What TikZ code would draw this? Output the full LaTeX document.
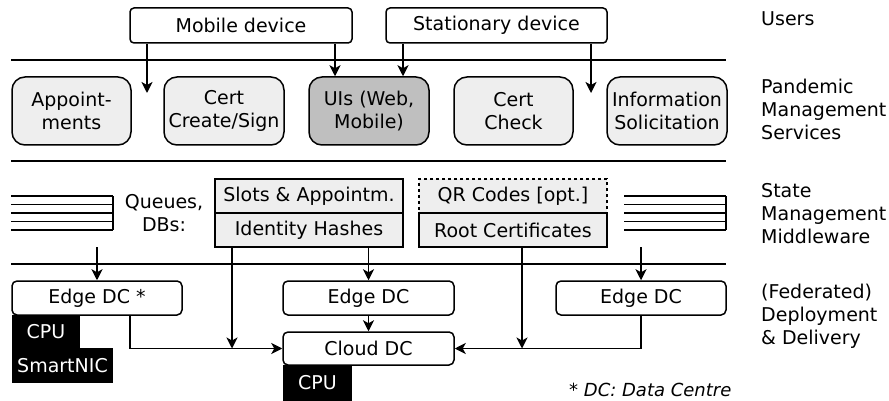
\documentclass[tikz,border=0pt]{standalone}
\usepackage{fontspec}
\setmainfont{DejaVu Sans}
\usetikzlibrary{arrows.meta}
\definecolor{lightfill}{RGB}{238,238,238}
\definecolor{darkfill}{RGB}{191,191,191}
\begin{document}
\begin{tikzpicture}[x=1pt,y=-1pt,
  every node/.style={font=\fontsize{19}{23}\selectfont, inner sep=0pt, align=center},
  lw/.style={line width=1.5pt},
  dev/.style={draw, lw, rounded corners=4pt, fill=white, minimum height=35pt},
  svc/.style={draw, lw, rounded corners=13pt, fill=lightfill, minimum height=68pt},
  store/.style={draw, lw, fill=lightfill, minimum width=188pt, minimum height=34pt},
  dc/.style={draw, lw, rounded corners=5pt, fill=white, minimum height=34pt},
  hw/.style={fill=black, text=white},
  layer/.style={anchor=west, align=left},
  rule/.style={lw},
  arr/.style={lw, -{Stealth[length=11pt,width=11pt,inset=3pt]}}
]
\useasboundingbox (0,0) rectangle (889,401);

% rules
\draw[rule] (11,60) -- (726,60);
\draw[rule] (11,161) -- (726,161);
\draw[rule] (11,264) -- (726,264);

% users
\node[dev, minimum width=222pt] (mob) at (241,25.5) {Mobile device};
\node[dev, minimum width=221pt] (sta) at (496.5,25.5) {Stationary device};

% services
\node[svc, minimum width=119pt] (app) at (71.5,111) {Appoint-\\ments};
\node[svc, minimum width=120pt] (ccs) at (224,111) {Cert\\Create/Sign};
\node[svc, minimum width=120pt, fill=darkfill] (uis) at (369,111) {UIs (Web,\\Mobile)};
\node[svc, minimum width=119pt] (cck) at (513.5,111) {Cert\\Check};
\node[svc, minimum width=120pt] (info) at (667,111) {Information\\Solicitation};

\coordinate (mobend) at (147,93);
\coordinate (staend) at (591,93);
\draw[arr] (147,0 |- mob.south) -- (mobend);
\draw[arr] (335,0 |- mob.south) -- (335,0 |- uis.north);
\draw[arr] (403,0 |- sta.south) -- (403,0 |- uis.north);
\draw[arr] (591,0 |- sta.south) -- (staend);

% queues
\foreach \y in {196,204.5,213,221.5,230}{
  \draw[lw] (11,\y) -- (113,\y);
  \draw[lw] (624,\y) -- (726,\y);
}
\draw[lw] (113,196) -- (113,230);
\draw[lw] (726,196) -- (726,230);
\node (qdb) at (164,213) {Queues,\\DBs:};

% stores
\node[store] (slots) at (309,196) {Slots \& Appointm.};
\node[store] (ids) at (309,230) {Identity Hashes};
\node[store, dash pattern=on 3pt off 3pt] (qr) at (513,196) {QR Codes [opt.]};
\node[store] (root) at (513,230) {Root Certificates};

% hardware
\node[hw, minimum width=68pt, minimum height=34pt] (cpu1) at (46,331.5) {CPU};
\node[hw, minimum width=101pt, minimum height=35pt] (nic) at (62.5,365.5) {SmartNIC};
\node[hw, minimum width=69pt, minimum height=36pt] (cpu2) at (317.5,383) {CPU};

% data centres
\node[dc, minimum width=170pt] (edge1) at (97,298) {Edge DC *};
\node[dc, minimum width=171pt] (edge2) at (368.5,298) {Edge DC};
\node[dc, minimum width=170pt] (edge3) at (641,298) {Edge DC};
\node[dc, minimum width=171pt, minimum height=33pt] (cloud) at (368.5,348.5) {Cloud DC};

\coordinate (qlft) at (97,247);
\coordinate (qrgt) at (641,247);
\coordinate (idsend) at (232,348.5);
\coordinate (rootend) at (522,348.5);
\draw[arr] (qlft) -- (edge1.north);
\draw[arr] (qrgt) -- (edge3.north);
\draw[arr] (edge2.north |- ids.south) -- (edge2.north);
\draw[arr] (232,0 |- ids.south) -- (idsend);
\draw[arr] (522,0 |- root.south) -- (rootend);
\draw[arr] (edge2.south) -- (cloud.north);
\draw[arr] (130,0 |- edge1.south) |- (cloud.west);
\draw[arr] (edge3.south) |- (cloud.east);

% layer labels
\node[layer] (lu) at (761,19) {Users};
\node[layer] (lp) at (761,109) {Pandemic\\Management\\Services};
\node[layer] (ls) at (761,214) {State\\Management\\Middleware};
\node[layer] (ld) at (761,316) {(Federated)\\Deployment\\\& Delivery};

\node[font=\fontsize{18}{22}\selectfont\itshape, anchor=west] (foot) at (569,390) {* DC: Data Centre};
\end{tikzpicture}
\end{document}
